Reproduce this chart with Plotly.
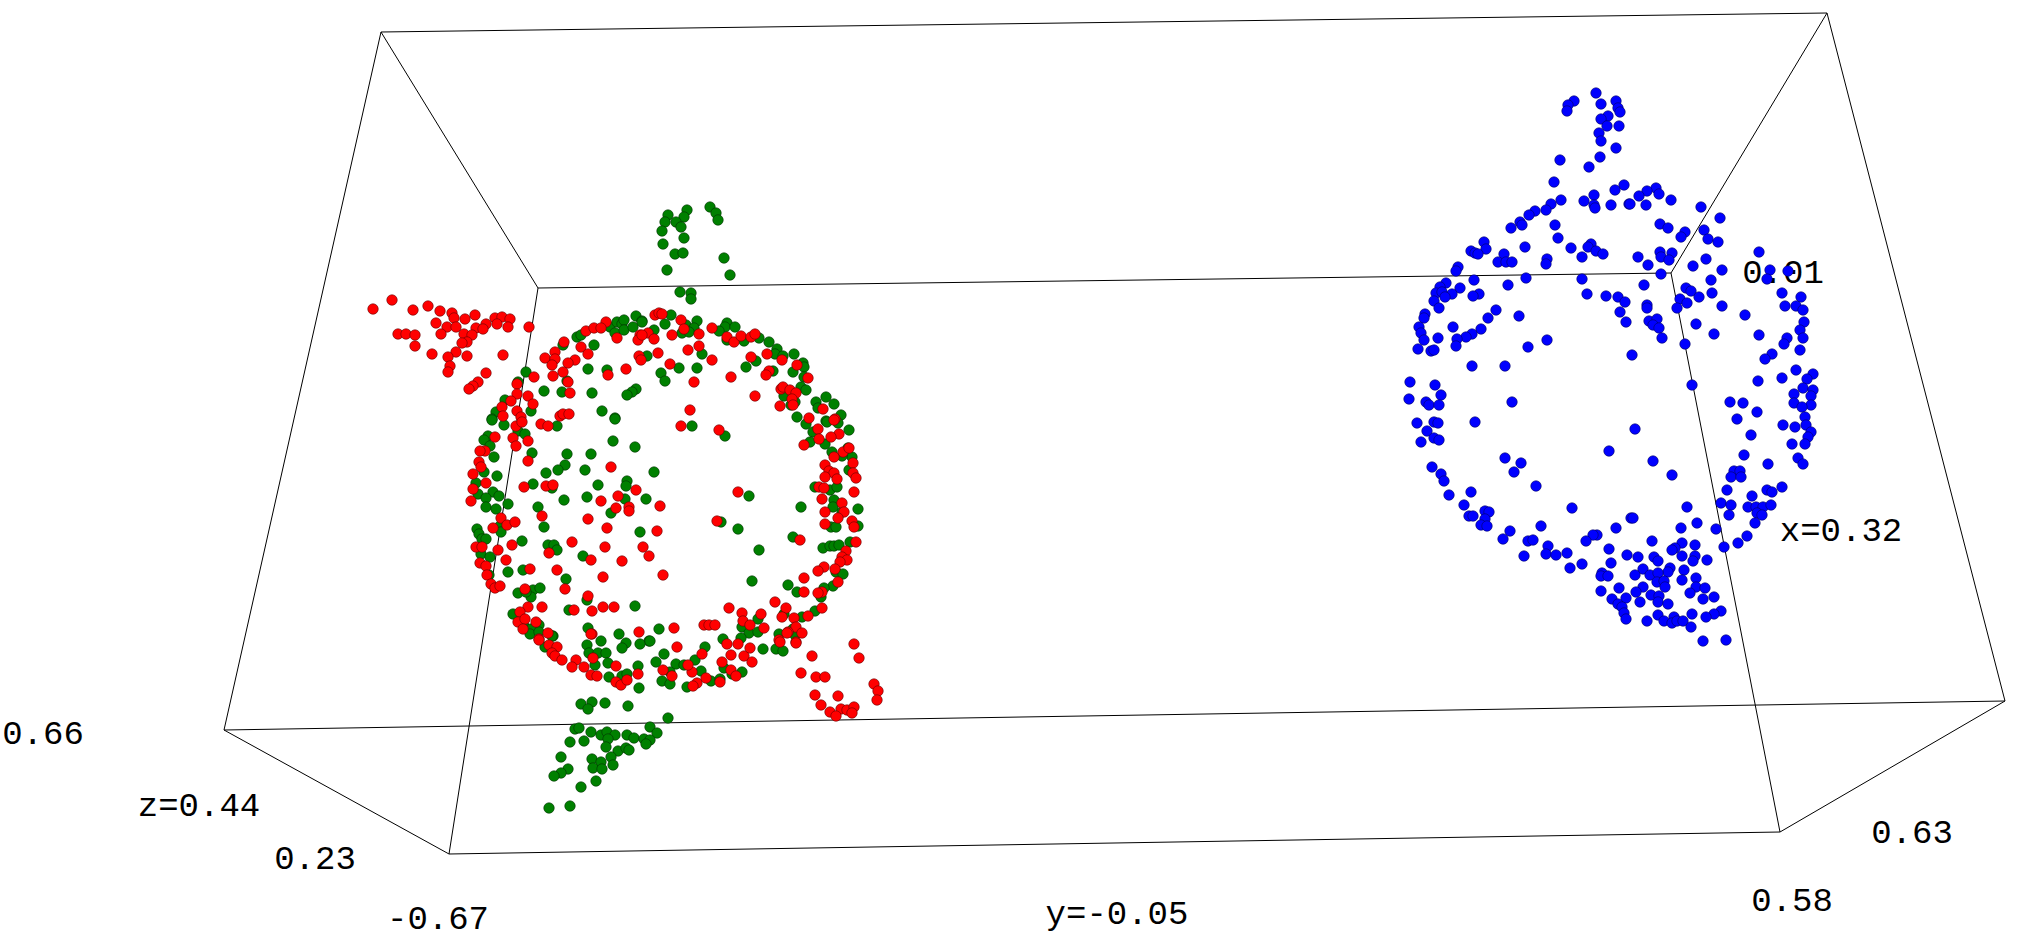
# 3D cluster view: three point clouds inside a perspective box,
# values in its own screen units
import plotly.graph_objects as go

WIDTH, HEIGHT = 2017, 940

# box edges, None breaks the line between edges
BOX_X = [381, 1827, 2005, 224, 381, None, 538, 1671, 1780, 449, 538, None,
         381, 538, None, 1827, 1671, None, 2005, 1780, None, 224, 449]
BOX_Y = [32, 13, 701, 730, 32, None, 288, 273, 832, 854, 288, None,
         32, 288, None, 13, 273, None, 701, 832, None, 730, 854]

LABELS = ['0.66', 'z=0.44', '0.23', '-0.67', 'y=-0.05', '0.58', '0.63', '0.01', 'x=0.32']
LABEL_X = [43, 199, 315, 438, 1117, 1792, 1912, 1783, 1841]
LABEL_Y = [735, 807, 860, 920, 915, 902, 834, 274, 532]

RED_POINTS = [
    (373,309),(392,300),(413,310),(428,306),(440,311),(452,313),(454,318),(465,319),(475,315),(436,323),
    (447,327),(456,327),(495,318),(502,317),(510,319),(486,324),(497,324),(508,327),(476,328),(483,329),
    (529,327),(398,334),(406,334),(415,335),(441,334),(464,334),(472,335),(467,342),(462,343),(415,346),
    (432,354),(456,352),(448,357),(467,356),(503,355),(450,366),(448,372),(486,373),(478,382),(473,386),
    (469,389),(606,322),(586,331),(594,328),(601,328),(617,338),(564,342),(581,347),(588,354),(555,352),
    (545,358),(555,359),(552,365),(575,360),(568,363),(563,372),(553,376),(534,377),(568,382),(570,393),
    (608,375),(626,369),(640,335),(638,340),(648,333),(639,356),(641,360),(517,384),(517,394),(528,396),
    (533,404),(511,401),(502,407),(517,411),(503,416),(521,417),(560,416),(563,414),(569,414),
    (655,315),(659,313),(662,314),(681,320),(672,335),(642,335),(654,339),(684,329),(699,334),(712,328),
    (688,350),(699,346),(658,353),(670,364),(712,360),(694,382),(731,377),(690,410),(727,337),(734,342),
    (741,336),(751,337),(755,334),(751,357),(767,354),(782,360),(797,365),(769,371),(766,375),(808,378),
    (781,389),(783,387),(790,390),(796,393),(792,399),(755,396),(780,406),(793,405),(823,409),(809,418),
    (835,419),
    (516,426),(522,422),(495,437),(513,438),(528,441),(516,446),(485,451),(480,451),(479,462),(481,467),
    (473,474),(486,483),(473,489),(471,501),(528,461),(541,424),(548,426),(681,426),(611,467),(524,487),
    (546,486),(553,485),(636,490),(601,501),(618,496),(616,508),(629,507),(629,511),(660,506),(542,516),
    (588,519),(607,528),(657,531),(501,518),(507,525),(515,522),(493,528),(572,542),(605,547),(643,547),
    (649,556),(476,547),(482,547),(512,545),(498,550),(549,553),(591,560),(622,561),(506,560),(480,563),
    (486,566),(530,569),(557,570),(487,575),(603,577),(663,575),(491,584),(495,588),(500,586),(565,589),
    (525,589),(588,596),(528,607),(542,607),(574,610),(592,611),(603,607),(614,607),(520,612),(518,622),
    (525,619),(523,629),(536,622),(548,633),(539,639),(592,634),(639,632),(674,628),
    (834,420),(818,429),(839,434),(831,437),(819,439),(804,445),(843,452),(834,457),(849,448),(853,463),
    (825,465),(829,471),(834,473),(853,473),(856,478),(825,477),(837,479),(719,430),(738,492),(819,487),
    (824,488),(854,492),(822,499),(842,503),(825,512),(844,512),(838,518),(852,521),(825,524),(854,527),
    (717,521),(800,540),(856,542),(846,551),(842,557),(847,560),(840,562),(824,567),(818,571),(835,569),
    (838,582),(804,578),(804,592),(822,592),(818,593),(729,608),(775,602),(786,608),(822,608),(742,613),
    (761,614),(782,617),(794,618),(808,616),(743,621),(704,625),(709,625),(715,625),(750,625),(764,628),
    (796,627),(802,633),(788,632),(779,640),(796,642),
    (539,640),(549,645),(557,647),(552,653),(555,656),(562,660),(576,660),(572,667),(584,667),(591,634),
    (593,658),(616,666),(591,675),(597,676),(616,682),(621,685),(627,680),(638,674),(677,647),(702,654),
    (663,670),(672,676),(692,672),(688,665),(697,683),(693,686),(706,678),(722,662),(731,655),(744,656),
    (752,662),(750,648),(727,644),(738,644),(731,670),(736,676),(720,682),(780,642),(796,643),(787,633),
    (812,656),(854,644),(859,658),(801,673),(816,677),(825,677),(815,695),(838,696),(821,705),(830,712),
    (841,709),(847,710),(854,707),(852,713),(836,716),(874,684),(878,691),(877,700),
]

GREEN_POINTS = [
    (526,372),(518,382),(563,345),(577,337),(581,335),(594,345),(610,327),(617,322),(622,324),(624,320),
    (615,333),(624,330),(633,327),(636,316),(642,321),(588,369),(607,370),(647,356),(544,391),(562,392),
    (592,393),(636,389),(632,392),(627,395),(505,400),(496,412),(492,419),(531,411),(602,411),(615,418),
    (567,381),
    (710,207),(716,213),(718,220),(687,210),(684,217),(668,215),(665,222),(676,222),(681,227),(662,231),
    (684,238),(663,244),(675,254),(683,253),(724,258),(667,270),(730,275),(680,292),(691,293),(691,299),
    (671,315),(642,322),(665,324),(654,330),(686,325),(697,321),(694,328),(682,333),(689,332),(702,354),
    (679,368),(697,368),(661,373),(665,381),(727,323),(725,327),(735,327),(719,331),(727,340),(744,341),
    (759,338),(769,342),(777,349),(775,354),(783,356),(794,354),(756,361),(746,367),(773,371),(803,363),
    (804,367),(793,372),(804,377),(801,387),(806,390),(784,396),(795,402),(791,405),(816,402),(826,397),
    (834,404),(818,408),(841,415),(797,417),(826,421),
    (492,420),(504,425),(518,431),(525,434),(488,436),(484,440),(490,446),(494,457),(532,453),(567,454),
    (591,454),(615,419),(613,441),(635,447),(557,426),(565,465),(558,470),(585,470),(546,473),(654,472),
    (484,472),(497,476),(476,483),(533,484),(552,488),(598,485),(627,481),(626,486),(478,494),(493,492),
    (499,496),(486,498),(564,500),(587,497),(625,499),(646,499),(486,507),(496,509),(508,504),(538,507),
    (611,513),(544,527),(477,529),(500,526),(501,532),(479,534),(482,539),(486,539),(640,532),(522,541),
    (548,545),(554,545),(557,550),(583,556),(481,554),(490,557),(523,570),(508,572),(489,575),(566,579),
    (518,593),(533,590),(540,588),(531,597),(526,592),(587,600),(635,606),(513,614),(569,610),(524,626),
    (539,625),(531,629),(530,634),(539,632),(553,636),(588,628),(619,634),(659,629),(601,641),(649,641),
    (806,424),(827,422),(838,423),(813,432),(849,430),(810,442),(825,444),(832,452),(848,448),(852,457),
    (842,456),(849,470),(725,436),(692,426),(749,496),(815,487),(830,490),(837,487),(834,500),(833,507),
    (801,507),(858,509),(842,512),(721,522),(738,529),(831,527),(836,527),(858,526),(793,537),(759,550),
    (823,548),(830,546),(834,546),(839,545),(850,542),(836,572),(843,574),(752,581),(788,585),(797,592),
    (833,586),(824,588),(821,597),(784,614),(802,617),(815,611),(758,619),(742,627),(749,633),(758,632),
    (779,634),(793,629),(795,635),(723,639),(741,638),
    (587,645),(589,653),(598,653),(606,653),(595,665),(608,663),(626,643),(622,648),(640,644),(664,654),
    (656,662),(676,664),(684,665),(695,660),(705,647),(701,671),(638,666),(609,677),(622,676),(627,674),
    (639,688),(662,681),(670,684),(670,672),(687,687),(711,681),(720,679),(732,674),(742,672),(724,668),
    (763,649),(776,649),(783,651),(545,647),(552,636),(650,641),
    (581,704),(592,702),(588,709),(605,703),(628,706),(668,718),(575,729),(579,728),(591,732),(601,735),
    (607,732),(615,735),(608,739),(650,727),(657,733),(627,735),(634,738),(644,739),(650,740),(646,744),
    (570,742),(584,741),(606,747),(618,751),(626,748),(629,750),(561,757),(592,759),(611,757),(601,762),
    (613,765),(593,768),(602,769),(568,769),(561,773),(554,776),(596,781),(581,787),(570,806),(549,808),
]

BLUE_POINTS = [
    (1596,93),(1574,101),(1568,105),(1567,111),(1601,104),(1616,101),(1618,108),(1620,112),(1608,116),(1601,119),
    (1607,126),(1619,126),(1599,133),(1601,141),(1616,148),(1600,157),(1589,167),(1560,160),(1554,182),(1624,185),
    (1615,190),(1594,195),(1584,201),(1561,200),(1551,204),(1594,205),(1595,208),(1611,205),(1629,204),(1546,210),
    (1535,211),(1529,215),(1520,222),(1522,225),(1511,228),(1555,225),(1558,238),(1571,248),(1591,244),(1588,247),
    (1596,251),(1603,254),(1582,257),(1525,247),(1484,242),(1486,249),(1471,251),(1475,253),(1478,254),(1504,254),
    (1498,262),(1506,262),(1512,262),(1547,259),(1546,264),(1458,267),(1456,271),(1474,280),(1526,278),(1582,279),
    (1446,283),(1440,287),(1508,285),(1436,293),(1442,292),(1460,288),(1452,294),(1445,297),(1479,294),(1473,296),
    (1434,301),(1439,308),(1587,294),(1606,296),(1618,297),(1625,302),(1620,312),(1626,322),(1496,310),(1488,318),
    (1519,316),(1425,314),(1424,318),(1419,327),(1453,327),(1481,329),
    (1656,188),(1647,191),(1659,194),(1639,196),(1630,204),(1646,205),(1671,200),(1701,207),(1720,218),(1660,224),
    (1668,228),(1685,232),(1681,237),(1704,230),(1708,239),(1718,242),(1759,252),(1660,252),(1672,253),(1661,257),
    (1669,260),(1638,257),(1648,265),(1706,259),(1693,266),(1722,270),(1770,270),(1788,271),(1767,279),(1661,274),
    (1711,280),(1644,285),(1686,288),(1691,291),(1712,293),(1782,293),(1801,297),(1699,297),(1680,299),(1687,303),
    (1785,306),(1796,306),(1803,310),(1722,306),(1677,308),(1647,305),(1647,308),(1745,315),(1649,321),(1657,319),
    (1653,325),(1659,328),(1696,324),(1804,322),(1800,330),(1714,334),(1759,335),(1662,338),(1685,344),(1787,338),
    (1784,344),(1803,338),(1800,350),(1772,354),(1765,359),(1632,355),(1796,370),(1813,374),(1782,378),(1758,381),
    (1807,379),(1803,388),(1813,390),(1692,385),(1794,394),(1811,396),(1730,402),(1743,403),(1794,403),(1811,405),
    (1802,407),(1757,412),
    (1805,417),(1806,425),(1811,432),(1808,437),(1805,444),(1783,425),(1795,427),(1792,444),(1751,435),(1737,419),
    (1744,455),(1768,464),(1798,458),(1803,464),(1734,471),(1740,471),(1731,477),(1741,477),(1727,490),(1767,490),
    (1772,492),(1782,487),(1752,496),(1721,503),(1731,505),(1748,507),(1756,507),(1763,507),(1771,505),(1757,513),
    (1762,515),(1729,515),(1755,523),(1697,523),(1716,529),(1747,536),(1738,543),(1695,545),(1724,547),
    (1421,333),(1424,340),(1438,338),(1472,334),(1466,337),(1457,339),(1456,346),(1418,349),(1431,351),(1434,350),
    (1528,347),(1547,340),(1472,366),(1505,366),(1410,382),(1435,385),(1441,395),(1409,399),(1426,402),(1429,405),
    (1439,405),(1512,402),(1417,423),(1434,422),(1438,423),(1475,422),(1427,431),(1421,442),(1434,438),(1439,440),
    (1609,451),(1505,458),(1521,463),(1514,472),(1432,467),(1441,474),(1444,481),(1536,486),(1449,495),(1471,492),
    (1464,505),(1572,508),(1469,516),(1473,516),(1485,511),(1489,512),(1485,519),(1481,525),(1487,526),(1541,526),
    (1510,531),(1503,539),(1616,528),(1631,518),(1597,535),(1593,535),(1586,541),(1528,541),(1533,540),(1609,549),
    (1548,546),(1546,554),(1556,555),(1567,553),(1524,556),(1627,555),(1582,564),(1611,563),(1570,568),
    (1635,429),(1653,461),(1672,475),(1687,507),(1633,518),(1681,528),(1652,541),(1682,543),(1675,548),(1672,550),
    (1638,557),(1654,557),(1658,561),(1682,556),(1695,556),(1693,561),(1707,560),(1643,569),(1670,568),(1668,572),
    (1684,570),(1602,573),(1601,576),(1608,576),(1635,575),(1650,575),(1658,573),(1657,582),(1664,581),(1682,580),
    (1696,578),(1696,587),(1619,588),(1643,587),(1665,587),(1705,588),(1601,591),(1636,592),(1690,593),(1651,595),
    (1659,596),(1714,597),(1612,599),(1626,598),(1703,599),(1640,602),(1658,602),(1668,604),(1618,604),(1622,607),
    (1624,613),(1626,619),(1658,615),(1692,614),(1721,611),(1714,614),(1706,617),(1647,621),(1664,621),(1674,617),
    (1672,623),(1677,621),(1683,621),(1691,627),(1703,641),(1726,640),
]


def add_cloud(fig, points, color, edge):
    xs, ys = zip(*points)
    fig.add_trace(go.Scatter(
        x=xs, y=ys, mode='markers',
        marker=dict(color=color, size=10.5, line=dict(color=edge, width=0.6)),
    ))


fig = go.Figure()

# box and labels go under the clouds
fig.add_trace(go.Scatter(
    x=BOX_X, y=BOX_Y, mode='lines',
    line=dict(color='#000000', width=1),
))
fig.add_trace(go.Scatter(
    x=LABEL_X, y=LABEL_Y, mode='text', text=LABELS,
    textposition='middle center',
    textfont=dict(family='Liberation Mono', size=34, color='#000000'),
))

add_cloud(fig, GREEN_POINTS, '#008000', '#003300')
add_cloud(fig, RED_POINTS, '#ff0000', '#660000')
add_cloud(fig, BLUE_POINTS, '#0000ff', '#000066')

fig.update_layout(
    width=WIDTH,
    height=HEIGHT,
    margin=dict(l=0, r=0, t=0, b=0),
    plot_bgcolor='white',
    paper_bgcolor='white',
    showlegend=False,
)
fig.update_xaxes(range=[0, WIDTH], visible=False)
fig.update_yaxes(range=[HEIGHT, 0], visible=False)

fig.write_html(
    "out.html",
    config={'displayModeBar': False},
    post_script="document.body.style.margin='0';",
)
